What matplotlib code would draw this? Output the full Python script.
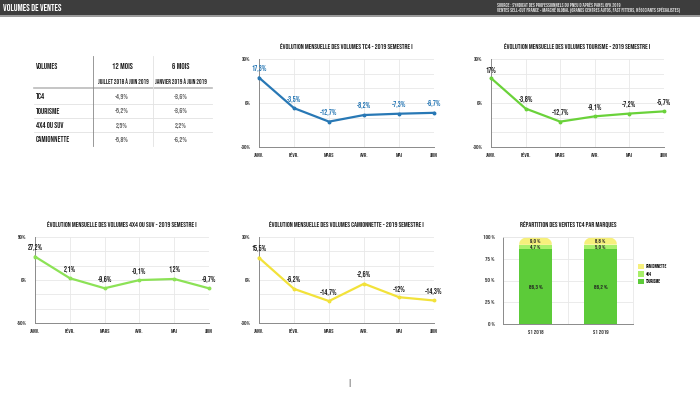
import matplotlib
matplotlib.use("Agg")
import matplotlib.pyplot as plt
from matplotlib.lines import Line2D
from matplotlib.patches import Rectangle, PathPatch, Patch
from matplotlib.path import Path
import numpy as np
import logging
logging.getLogger('matplotlib.font_manager').setLevel(logging.ERROR)

plt.rcParams['font.family'] = ['Bebas Neue', 'Oswald', 'Barlow Condensed', 'DejaVu Sans']
plt.rcParams['font.weight'] = 600

W, H = 700, 394

months = ["JANV.", "FÉVR.", "MARS", "AVR.", "MAI", "JUIN"]

tc4 = [17.3, -3.5, -12.7, -8.2, -7.3, -6.7]
tourisme = [17.0, -3.8, -12.7, -9.1, -7.2, -5.7]
suv = [27.2, 2.1, -9.6, -0.1, 1.2, -9.7]
camionnette = [15.5, -6.2, -14.7, -2.6, -12.0, -14.3]

table_rows = ["TC4", "TOURISME", "4X4 OU SUV", "CAMIONNETTE"]
table_12m = ["-4,9%", "-5,2%", "2,5%", "-5,8%"]
table_6m = ["-3,6%", "-3,6%", "2,2%", "-6,2%"]

bar_periods = ["S1 2018", "S1 2019"]
bar_tourisme = [86.3, 86.2]
bar_4x4 = [4.7, 5.0]
bar_camionnette = [9.0, 8.8]

fig = plt.figure(figsize=(W / 100, H / 100), dpi=100)
fig.patch.set_facecolor("white")


def fx(x):
    return x / W


def fy(y):
    return 1 - y / H


def ax_rect(l, t, r, b):
    return [fx(l), fy(b), (r - l) / W, (b - t) / H]


# Header
fig.patches.append(Rectangle((0, fy(15)), 1, 15 / H, transform=fig.transFigure,
                             facecolor="#3d3d3d", edgecolor="none", zorder=0))
fig.patches.append(Rectangle((0, fy(17)), 1, 2 / H, transform=fig.transFigure,
                             facecolor="#9a9a9a", edgecolor="none", zorder=0))
fig.text(fx(3), fy(7.5), "VOLUMES DE VENTES", color="white", fontsize=6.8,
         fontweight="bold", va="center", ha="left")
fig.text(fx(497), fy(4.5), "SOURCE : SYNDICAT DES PROFESSIONNELS DU PNEU D'APRÈS PANEL GFK 2019",
         color="#dddddd", fontsize=3.9, va="center", ha="left")
fig.text(fx(497), fy(10.5),
         "VENTES SELL-OUT FRANCE - MARCHÉ GLOBAL (GRANDS CENTRES AUTOS, FAST FITTERS, NÉGOCIANTS SPÉCIALISTES)",
         color="#dddddd", fontsize=3.9, va="center", ha="left")

# Table
tc = "#222222"
fig.text(fx(36), fy(66), "VOLUMES", fontsize=5.8, va="center", ha="left", color=tc)
fig.text(fx(122), fy(66), "12 MOIS", fontsize=6.0, va="center", ha="center", color=tc)
fig.text(fx(181), fy(66), "6 MOIS", fontsize=6.0, va="center", ha="center", color=tc)
fig.text(fx(123), fy(81), "JUILLET 2018 À JUIN 2019", fontsize=4.7, va="center", ha="center", color=tc)
fig.text(fx(181), fy(81), "JANVIER 2019 À JUIN 2019", fontsize=4.7, va="center", ha="center", color=tc)
row_y = [96, 110.5, 125, 139.5]
for name, a, b, y in zip(table_rows, table_12m, table_6m, row_y):
    fig.text(fx(36), fy(y), name, fontsize=5.8, va="center", ha="left", color=tc)
    fig.text(fx(122), fy(y), a, fontsize=5.4, va="center", ha="center", color="#666666",
             fontweight="normal")
    fig.text(fx(181), fy(y), b, fontsize=5.4, va="center", ha="center", color="#666666",
             fontweight="normal")
fig.lines.append(Line2D([fx(34), fx(212)], [fy(87.5), fy(87.5)], transform=fig.transFigure,
                        color="#bbbbbb", lw=1.2))
for y in [103.5, 118, 132.5]:
    fig.lines.append(Line2D([fx(34), fx(212)], [fy(y), fy(y)], transform=fig.transFigure,
                            color="#e2e2e2", lw=0.6))
fig.lines.append(Line2D([fx(93), fx(93)], [fy(56), fy(146)], transform=fig.transFigure,
                        color="#888888", lw=0.6))
fig.lines.append(Line2D([fx(153), fx(153)], [fy(56), fy(146)], transform=fig.transFigure,
                        color="#e2e2e2", lw=0.6))


def fmt(v):
    if abs(v - round(v)) < 1e-9:
        s = f"{v:.0f}%"
    else:
        s = f"{v:.1f}%".replace(".", ",")
    return s


def style_axes(ax):
    for s in ["top", "right"]:
        ax.spines[s].set_visible(False)
    for s in ["left", "bottom"]:
        ax.spines[s].set_color("#8a8a8a")
        ax.spines[s].set_linewidth(0.7)


def line_chart(rect, values, color, lim, title, label_color):
    ax = fig.add_axes(rect)
    x = np.arange(len(months))
    ax.set_xlim(0, len(months) - 1)
    ax.set_ylim(-lim, lim)
    ax.set_yticks([-lim, 0, lim])
    ax.set_yticklabels([f"-{lim}%", "0%", f"{lim}%"])
    ax.set_yticks(np.linspace(-lim, lim, 7), minor=True)
    ax.set_xticks(x)
    ax.set_xticklabels(months)
    ax.grid(True, which="both", axis="y", color="#e8e8e8", lw=0.6)
    ax.grid(True, which="major", axis="x", color="#e8e8e8", lw=0.6)
    ax.tick_params(axis="both", which="both", length=0, labelsize=4.4, pad=4,
                   labelcolor="#333333")
    ax.tick_params(axis="y", which="major", pad=6)
    style_axes(ax)
    ax.plot(x, values, color=color, lw=1.6, marker="o", markersize=1.8, zorder=3,
            clip_on=False)
    for xi, v in zip(x, values):
        ax.annotate(fmt(v), (xi, v), xytext=(0, 4), textcoords="offset points",
                    ha="center", va="bottom", fontsize=5.6, color=label_color)
    ax.set_title(title, fontsize=5.3, color="#222222", pad=7)
    return ax


line_chart(ax_rect(259, 59, 434, 147), tc4, "#2878b5", 30,
           "ÉVOLUTION MENSUELLE DES VOLUMES TC4 - 2019 SEMESTRE I", "#2878b5")
line_chart(ax_rect(491, 59, 664, 147), tourisme, "#6ad23a", 30,
           "ÉVOLUTION MENSUELLE DES VOLUMES TOURISME - 2019 SEMESTRE I", "#222222")
line_chart(ax_rect(35, 237, 209, 323), suv, "#8ce256", 50,
           "ÉVOLUTION MENSUELLE DES VOLUMES 4X4 OU SUV - 2019 SEMESTRE I", "#222222")
line_chart(ax_rect(259, 237, 434, 323), camionnette, "#f2e23a", 30,
           "ÉVOLUTION MENSUELLE DES VOLUMES CAMIONNETTE - 2019 SEMESTRE I", "#222222")

# Stacked bar chart
ax = fig.add_axes(ax_rect(503, 237, 633, 324))
xb = np.arange(len(bar_periods))
bw = 0.5
c_t, c_4, c_c = "#5ccb39", "#a8ef6a", "#f6f07c"
ax.bar(xb, bar_tourisme, bw, color=c_t, label="TOURISME", zorder=2)
ax.bar(xb, bar_4x4, bw, bottom=bar_tourisme, color=c_4, label="4X4", zorder=2)
cam_bottom = np.array(bar_tourisme) + np.array(bar_4x4)
# camionnette segment with rounded top corners
cam_bars = ax.bar(xb, bar_camionnette, bw, bottom=cam_bottom, color=c_c,
                  label="CAMIONNETTE", zorder=2)
for rect_bar in cam_bars:
    rect_bar.set_visible(False)
    x0 = rect_bar.get_x()
    x1 = x0 + rect_bar.get_width()
    b = rect_bar.get_y()
    t = b + rect_bar.get_height()
    rx = rect_bar.get_width() * 0.3
    ry = rect_bar.get_height() * 0.85
    th = np.linspace(0, np.pi / 2, 20)
    right = np.column_stack([x1 - rx + rx * np.cos(th), t - ry + ry * np.sin(th)])
    left = np.column_stack([x0 + rx - rx * np.cos(th[::-1]), t - ry + ry * np.sin(th[::-1])])
    verts = np.vstack([[x0, b], [x1, b], right, left, [x0, b]])
    ax.add_patch(PathPatch(Path(verts), facecolor=c_c, edgecolor="none", zorder=2))
for i in range(len(bar_periods)):
    ax.text(xb[i], bar_tourisme[i] / 2, f"{bar_tourisme[i]:.1f} %".replace(".", ","),
            ha="center", va="center", fontsize=4.6, color="#222222")
    ax.text(xb[i], bar_tourisme[i] + bar_4x4[i] / 2 + 0.6, f"{bar_4x4[i]:.1f} %".replace(".", ","),
            ha="center", va="center", fontsize=4.2, color="#222222")
    ax.text(xb[i], cam_bottom[i] + bar_camionnette[i] / 2 + 0.5,
            f"{bar_camionnette[i]:.1f} %".replace(".", ","),
            ha="center", va="center", fontsize=4.2, color="#222222")
ax.set_xlim(-0.5, 1.5)
ax.set_ylim(0, 100)
ax.set_yticks([0, 25, 50, 75, 100])
ax.set_yticklabels(["0 %", "25 %", "50 %", "75 %", "100 %"])
ax.set_xticks(xb)
ax.set_xticklabels(bar_periods)
ax.set_xticks([0.5], minor=True)
ax.grid(True, axis="y", color="#e8e8e8", lw=0.6, zorder=0)
ax.grid(True, axis="x", which="minor", color="#e8e8e8", lw=0.6, zorder=0)
ax.tick_params(axis="both", which="both", length=0, labelsize=4.4, pad=4, labelcolor="#333333")
ax.tick_params(axis="y", pad=6)
style_axes(ax)
ax.spines["top"].set_visible(True)
ax.spines["right"].set_visible(True)
ax.spines["top"].set_color("#e8e8e8")
ax.spines["right"].set_color("#e8e8e8")
ax.spines["top"].set_linewidth(0.6)
ax.spines["right"].set_linewidth(0.6)
ax.set_title("RÉPARTITION DES VENTES TC4 PAR MARQUES", fontsize=5.3, color="#222222", pad=7)
leg_handles = [Patch(facecolor=c_c, label="CAMIONNETTE"),
               Patch(facecolor=c_4, label="4X4"),
               Patch(facecolor=c_t, label="TOURISME")]
fig.legend(handles=leg_handles, loc="center left",
           bbox_to_anchor=(fx(633), fy(274)), frameon=False, fontsize=3.6,
           handlelength=1.2, handleheight=1.2, handletextpad=0.5, labelspacing=0.45)

# Page marker
fig.text(fx(349), fy(383), "|", fontsize=6, color="#555555", ha="center", va="center",
         fontweight="normal")

fig.savefig("out.png", dpi=100, facecolor="white")
